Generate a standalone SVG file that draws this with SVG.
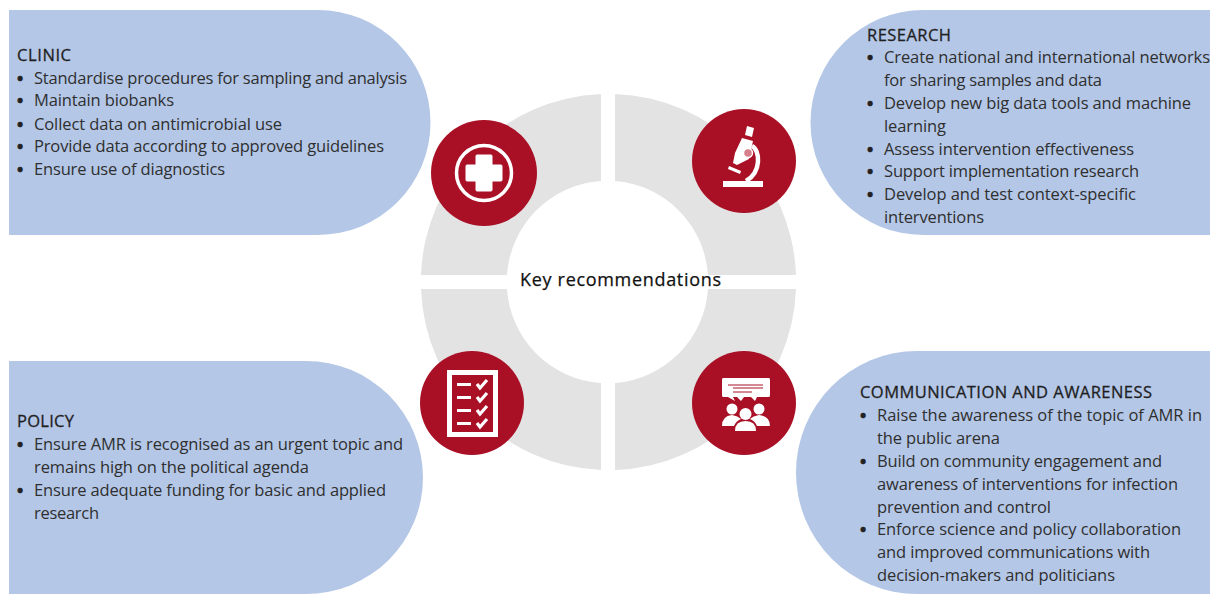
<svg xmlns="http://www.w3.org/2000/svg" width="1210" height="594" viewBox="0 0 1210 594">
<style>
.blob{fill:#b4c7e7}
.seg{fill:#e3e3e3}
.disc{fill:#a91026}
.w{fill:#fff}
.wl{fill:none;stroke:#fff;stroke-linecap:butt}
text{font-family:"Open Sans","Noto Sans","Liberation Sans",sans-serif;font-size:16.5px;fill:#2f2f2f}
.b{font-weight:700;fill:#222;stroke:#222;stroke-width:.6px}
.h{fill:#1f1f1f;font-weight:400;stroke:#1f1f1f;stroke-width:.3px}
.k{font-size:18px;fill:#111;stroke:#111;stroke-width:.25px}
</style>
<rect width="1210" height="594" fill="#fff"/>
<g id="ring">
<path class="seg" d="M601 94A188 188 0 0 0 421 275H507A101 101 0 0 1 601 181Z"/>
<path class="seg" d="M615 94A188 188 0 0 1 796 275H708A101 101 0 0 0 615 181Z"/>
<path class="seg" d="M421 289A188 188 0 0 0 601 470V383A101 101 0 0 1 507 289Z"/>
<path class="seg" d="M796 289A188 188 0 0 1 615 470V383A101 101 0 0 0 708 289Z"/>
</g>
<g id="clinic">
<path class="blob" d="M9 10H318A112.500 112.500 0 0 1 318 235H9Z"/>
<text class="h" x="17" y="61" textLength="54">CLINIC</text>
<text class="b" x="17" y="84">•</text><text x="34" y="84" textLength="373">Standardise procedures for sampling and analysis</text>
<text class="b" x="17" y="106">•</text><text x="34" y="106" textLength="140">Maintain biobanks</text>
<text class="b" x="17" y="130">•</text><text x="34" y="130" textLength="248">Collect data on antimicrobial use</text>
<text class="b" x="17" y="152">•</text><text x="34" y="152" textLength="350">Provide data according to approved guidelines</text>
<text class="b" x="17" y="175">•</text><text x="34" y="175" textLength="191">Ensure use of diagnostics</text>
<circle class="disc" cx="484" cy="173" r="53"/>
<circle cx="484" cy="173" r="27.500" fill="none" stroke="#fff" stroke-width="3.500"/>
<path class="w" d="M477 155H491Q492 155 492 156V165H501Q502 165 502 166V180Q502 181 501 181H492V190Q492 191 491 191H477Q476 191 476 190V181H467Q466 181 466 180V166Q466 165 467 165H476V156Q476 155 477 155Z" stroke="#fff" stroke-width="1" stroke-linejoin="round"/>
</g>
<g id="research">
<path class="blob" d="M1210 10H923A112.500 112.500 0 0 0 923 235H1210Z"/>
<text class="h" x="867" y="41" textLength="84">RESEARCH</text>
<text class="b" x="867" y="63">•</text><text x="884" y="63" textLength="326">Create national and international networks</text>
<text x="884" y="86" textLength="218">for sharing samples and data</text>
<text class="b" x="867" y="109">•</text><text x="884" y="109" textLength="307">Develop new big data tools and machine</text>
<text x="884" y="132" textLength="62">learning</text>
<text class="b" x="867" y="155">•</text><text x="884" y="155" textLength="250">Assess intervention effectiveness</text>
<text class="b" x="867" y="177">•</text><text x="884" y="177" textLength="255">Support implementation research</text>
<text class="b" x="867" y="200">•</text><text x="884" y="200" textLength="252">Develop and test context-specific</text>
<text x="884" y="223" textLength="100">interventions</text>
<circle class="disc" cx="744" cy="161" r="52"/>
<path class="w" d="M723 181H763V187H723Z"/>
<path class="w" d="M729 166L741 171L740 174L728 169Z"/>
<path class="w" d="M747 126L754 128L752 137L745 135Z"/>
<path class="w" d="M742 138L753 141L749 159L737 165L733 163L735 153Z"/>
<path class="wl" stroke-width="4.500" d="M752 146C760 150 762 172 746 181"/>
<circle cx="748" cy="153" r="4.500" fill="#d87f8c" stroke="#fff" stroke-width="1.500"/>
</g>
<g id="policy">
<path class="blob" d="M9 361H306A117 116.500 0 0 1 306 594H9Z"/>
<text class="h" x="17" y="427" textLength="57">POLICY</text>
<text class="b" x="17" y="450">•</text><text x="34" y="450" textLength="369">Ensure AMR is recognised as an urgent topic and</text>
<text x="34" y="473" textLength="275">remains high on the political agenda</text>
<text class="b" x="17" y="496">•</text><text x="34" y="496" textLength="352">Ensure adequate funding for basic and applied</text>
<text x="34" y="519" textLength="65">research</text>
<circle class="disc" cx="472" cy="403" r="52"/>
<path class="w" fill-rule="evenodd" d="M447 370H498V437H447ZM452 375V432H493V375Z"/>
<g class="w">
<rect x="457" y="383" width="14" height="3"/><rect x="457" y="396" width="14" height="3"/><rect x="457" y="409" width="14" height="3"/><rect x="457" y="422" width="14" height="3"/>
</g>
<g fill="none" stroke="#fff" stroke-width="3.200">
<path d="M477 384L480 388L487 380"/>
<path d="M477 397L480 401L487 393"/>
<path d="M477 410L480 414L487 406"/>
<path d="M477 423L480 427L487 419"/>
</g>
</g>
<g id="communication">
<path class="blob" d="M1210 351H917A121 121.500 0 0 0 917 594H1210Z"/>
<text class="h" x="860" y="398" textLength="292">COMMUNICATION AND AWARENESS</text>
<text class="b" x="860" y="421">•</text><text x="877" y="421" textLength="325">Raise the awareness of the topic of AMR in</text>
<text x="877" y="444" textLength="123">the public arena</text>
<text class="b" x="860" y="467">•</text><text x="877" y="467" textLength="285">Build on community engagement and</text>
<text x="877" y="490" textLength="301">awareness of interventions for infection</text>
<text x="877" y="513" textLength="174">prevention and control</text>
<text class="b" x="860" y="535">•</text><text x="877" y="535" textLength="304">Enforce science and policy collaboration</text>
<text x="877" y="558" textLength="273">and improved communications with</text>
<text x="877" y="581" textLength="238">decision-makers and politicians</text>
<circle class="disc" cx="744" cy="403" r="52"/>
<path class="w" d="M723 378H769Q770 378 770 380V395Q770 397 769 397H757L755 401L751 397H744L741 401L737 397H733L735 401L728 397H723Q722 397 722 395V380Q722 378 723 378Z"/>
<path fill="none" stroke="#a91026" stroke-width="1" d="M728 385H763M733 388H763M733 392H752"/>
<circle class="w" cx="732" cy="409" r="5.500"/><circle class="w" cx="759" cy="409" r="5.500"/><circle class="w" cx="745.500" cy="414" r="6"/>
<path class="w" d="M722 426Q722 416 732 415Q738 416 741 419Q736 421 734 426Z"/>
<path class="w" d="M770 426Q770 416 759 415Q753 416 750 419Q755 421 757 426Z"/>
<path class="w" d="M735 431Q735 421 745.500 421Q756 421 756 431Z"/>
</g>
<g id="center"><text class="k" x="520" y="286" textLength="201">Key recommendations</text></g>
<g id="connectors"/>
</svg>
